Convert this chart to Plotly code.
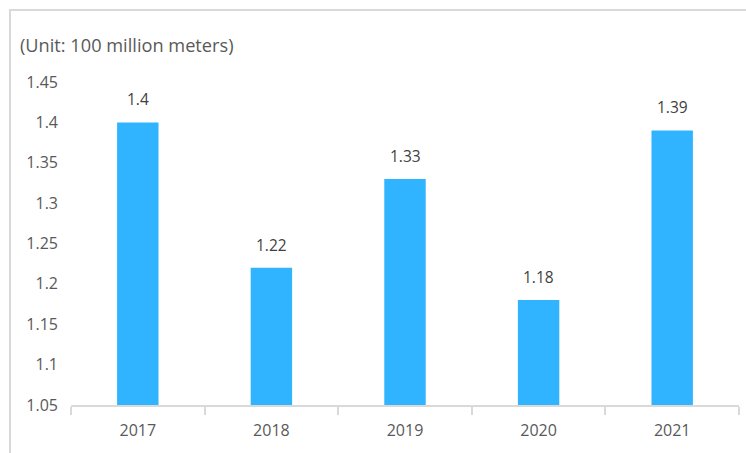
import plotly.graph_objects as go

years = ["2017", "2018", "2019", "2020", "2021"]
output = [1.40, 1.22, 1.33, 1.18, 1.39]
value_labels = ["1.4", "1.22", "1.33", "1.18", "1.39"]
y_ticks = [1.05, 1.10, 1.15, 1.20, 1.25, 1.30, 1.35, 1.40, 1.45]
y_tick_text = ["1.05", "1.1", "1.15", "1.2", "1.25", "1.3", "1.35", "1.4", "1.45"]

BAR = "#30B4FF"
GRAY = "#D9D9D9"
TEXT = "#595959"
FONT = "'Open Sans', sans-serif"

fig = go.Figure()
fig.add_trace(go.Bar(x=years, y=output, marker=dict(color=BAR, line=dict(width=0)),
                     width=0.31, hoverinfo="x+y"))

# value labels above each bar (positioned by category index)
for i, (v, t) in enumerate(zip(output, value_labels)):
    fig.add_annotation(x=i, y=v, text=t, showarrow=False, yshift=23,
                       font=dict(size=15.5, color="#404040", family=FONT))

# unit caption
fig.add_annotation(xref="paper", yref="paper", x=-0.079, y=1.0, yshift=37,
                   xanchor="left", yanchor="middle", showarrow=False,
                   text="(Unit: 100 million meters)",
                   font=dict(size=18.2, color=TEXT, family=FONT))

# outer frame of the chart area
fig.add_shape(type="rect", xref="paper", yref="paper",
              x0=-0.0913, x1=1.2, y0=-0.3, y1=1.223,
              line=dict(color=GRAY, width=2), layer="below")

fig.update_layout(
    width=746, height=453,
    margin=dict(l=71, r=7, t=82, b=48),
    paper_bgcolor="white", plot_bgcolor="white",
    showlegend=False,
    font=dict(family=FONT, size=16, color=TEXT),
)
fig.update_xaxes(
    type="category", range=[-0.5, len(years) - 0.5],
    showline=True, linecolor=GRAY, linewidth=2,
    ticks="outside", tickson="boundaries", ticklen=8, tickcolor=GRAY, tickwidth=2,
    showgrid=False, tickfont=dict(size=16, color=TEXT, family=FONT),
    ticklabelstandoff=10,
)
fig.update_yaxes(
    range=[1.05, 1.45], tickvals=y_ticks, ticktext=y_tick_text,
    showgrid=False, zeroline=False, showline=False,
    tickfont=dict(size=16, color=TEXT, family=FONT),
    ticklabelstandoff=12,
)

fig.write_html("out.html")
